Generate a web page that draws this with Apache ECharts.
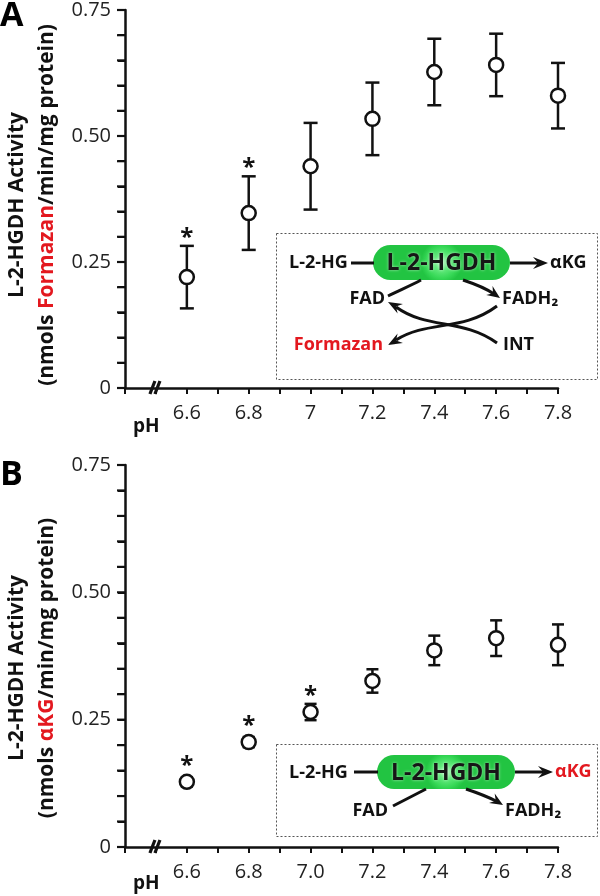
<!DOCTYPE html>
<html><head><meta charset="utf-8">
<script src="https://cdn.jsdelivr.net/npm/echarts@6/dist/echarts.min.js"></script>
<style>html,body{margin:0;padding:0;background:#fff}#c{width:600px;height:896px}</style>
</head><body><div id="c"></div>
<script>
// ---- data ----
const phValues = [6.6, 6.8, 7.0, 7.2, 7.4, 7.6, 7.8];
const xTickLabelsA = ['6.6', '6.8', '7', '7.2', '7.4', '7.6', '7.8'];
const xTickLabelsB = ['6.6', '6.8', '7.0', '7.2', '7.4', '7.6', '7.8'];
const yTickValues = [0, 0.25, 0.5, 0.75];
const yTickLabels = ['0', '0.25', '0.50', '0.75'];
const yTickMarks = [0, 0.05, 0.10, 0.15, 0.20, 0.25, 0.30, 0.35, 0.40, 0.45, 0.50, 0.55, 0.60, 0.65, 0.70, 0.75];
const formazanMean = [0.220, 0.347, 0.440, 0.534, 0.627, 0.641, 0.580];
const formazanSem  = [0.062, 0.073, 0.086, 0.072, 0.066, 0.062, 0.065];
const akgMean = [0.128, 0.206, 0.265, 0.326, 0.386, 0.410, 0.397];
const akgSem  = [0.009, 0.010, 0.016, 0.023, 0.029, 0.035, 0.040];
const starsA = [6.6, 6.8];
const starsB = [6.6, 6.8, 7.0];
const axisBreakAt = 6.5;
const xMin = 6.4, xMax = 7.8;

const FONT = '"Open Sans", "DejaVu Sans", sans-serif';
const INK = '#111';
const RED = '#e3181f';

const chart = echarts.init(document.getElementById('c'), null, {renderer: 'canvas'});

function idxOf(v) { return phValues.findIndex(p => Math.abs(p - v) < 1e-6); }

function xAxisCfg(gridIndex, labels) {
  return {
    type: 'value', gridIndex, min: xMin, max: xMax, interval: 0.1,
    axisLine: {show: true, onZero: false, lineStyle: {color: INK, width: 2.5}},
    axisTick: {show: true, length: 6, lineStyle: {color: INK, width: 2}},
    splitLine: {show: false},
    axisLabel: {
      margin: 15, fontFamily: FONT, fontSize: 20, color: '#222',
      formatter: v => { const i = idxOf(v); return i >= 0 ? labels[i] : ''; }
    }
  };
}
function yAxisCfg(gridIndex, redWord, shift) {
  return {
    type: 'value', gridIndex, min: 0, max: 0.75, interval: 0.05,
    axisLine: {show: true, onZero: false, lineStyle: {color: INK, width: 2.5}},
    axisTick: {show: true, length: 7, lineStyle: {color: INK, width: 2}},
    splitLine: {show: false},
    axisLabel: {
      margin: 14, fontFamily: FONT, fontSize: 20, color: '#222',
      formatter: v => { const i = yTickValues.findIndex(t => Math.abs(t - v) < 1e-6); return i >= 0 ? yTickLabels[i] : ''; }
    },
    name: '{t|L-2-HGDH Activity}\n{t|(nmols }{r|' + redWord + '}{t|/min/mg protein)}',
    nameLocation: 'middle', nameRotate: 90, nameGap: 63,
    nameTextStyle: {
      padding: [0, shift, 0, 0],
      rich: {
        t: {fontFamily: FONT, fontWeight: 'bold', fontSize: 21, color: INK, lineHeight: 30},
        r: {fontFamily: FONT, fontWeight: 'bold', fontSize: 21, color: RED, lineHeight: 30}
      }
    }
  };
}

function errRender(capW) {
  return function (params, api) {
    const x = api.value(0), m = api.value(1), s = api.value(2);
    const t = api.coord([x, m + s]);
    const b = api.coord([x, m - s]);
    const st = {stroke: INK, lineWidth: 2.5};
    return {type: 'group', children: [
      {type: 'line', shape: {x1: t[0], y1: t[1], x2: b[0], y2: b[1]}, style: st},
      {type: 'line', shape: {x1: t[0] - capW / 2, y1: t[1], x2: t[0] + capW / 2, y2: t[1]}, style: st},
      {type: 'line', shape: {x1: b[0] - capW / 2, y1: b[1], x2: b[0] + capW / 2, y2: b[1]}, style: st}
    ]};
  };
}
function starRender(params, api) {
  const x = api.value(0), m = api.value(1), s = api.value(2);
  const t = api.coord([x, m + s]);
  const c = api.coord([x, m]);
  const top = Math.min(t[1], c[1] - 8);
  return {type: 'text', x: c[0], y: top - 8,
    style: {text: '*', font: 'bold 24px ' + FONT, fill: INK, align: 'center', verticalAlign: 'middle'}};
}
function breakRender(params, api) {
  const p = api.coord([api.value(0), api.value(1)]);
  const st = {stroke: INK, lineWidth: 3.2};
  return {type: 'group', children: [
    {type: 'line', shape: {x1: p[0] - 6, y1: p[1] + 6, x2: p[0] - 1, y2: p[1] - 7}, style: st},
    {type: 'line', shape: {x1: p[0] - 1, y1: p[1] + 6, x2: p[0] + 4, y2: p[1] - 7}, style: st}
  ]};
}
function yTickRender(params, api) {
  const p = api.coord([api.value(0), api.value(1)]);
  return {type: 'rect', shape: {x: p[0] - 8, y: p[1] - 1.1, width: 8, height: 2.2}, style: {fill: INK}};
}

function seriesFor(k, mean, sem, stars, capW) {
  const pts = phValues.map((x, i) => [x, mean[i], sem[i]]);
  const starPts = stars.map(x => { const i = idxOf(x); return [x, mean[i], sem[i]]; });
  return [
    {type: 'custom', xAxisIndex: k, yAxisIndex: k, data: yTickMarks.map(v => [xMin, v]),
      renderItem: yTickRender, z: 100, clip: false, silent: true},
    {type: 'custom', xAxisIndex: k, yAxisIndex: k, data: pts, renderItem: errRender(capW), z: 3, clip: false, silent: true},
    {type: 'scatter', xAxisIndex: k, yAxisIndex: k, data: pts.map(p => [p[0], p[1]]), symbol: 'circle', symbolSize: 14,
      itemStyle: {color: '#fff', borderColor: INK, borderWidth: 2.5, opacity: 1}, z: 4, silent: true},
    {type: 'custom', xAxisIndex: k, yAxisIndex: k, data: starPts, renderItem: starRender, z: 5, clip: false, silent: true},
    {type: 'custom', xAxisIndex: k, yAxisIndex: k, data: [[axisBreakAt, 0]], renderItem: breakRender, z: 6, clip: false, silent: true}
  ];
}

// ---- inset diagram helpers ----
function arrowHead(tx, ty, dx, dy, L, W) {
  const len = Math.hypot(dx, dy); const ux = dx / len, uy = dy / len; const nx = -uy, ny = ux;
  const bx = tx - ux * L, by = ty - uy * L;
  const nxp = tx - ux * L * 0.65, nyp = ty - uy * L * 0.65;
  return {type: 'polygon', shape: {points: [[tx, ty], [bx + nx * W / 2, by + ny * W / 2], [nxp, nyp], [bx - nx * W / 2, by - ny * W / 2]]},
    style: {fill: INK}, z: 20};
}
function txt(s, x, y, align, color, size) {
  return {type: 'text', x, y, z: 20,
    style: {text: s, font: 'bold ' + (size || 18) + 'px ' + FONT, fill: color || INK, align: align || 'left', verticalAlign: 'middle'}};
}
function line(x1, y1, x2, y2, w) {
  return {type: 'line', shape: {x1, y1, x2, y2}, style: {stroke: INK, lineWidth: w || 3}, z: 20};
}
function curve(x1, y1, cpx1, cpy1, cpx2, cpy2, x2, y2) {
  return {type: 'bezierCurve', shape: {x1, y1, cpx1, cpy1, cpx2, cpy2, x2, y2}, style: {stroke: INK, lineWidth: 3, fill: null}, z: 20};
}
function pill(x, y, w, h) {
  return [
    {type: 'rect', shape: {x, y, width: w, height: h, r: h / 2}, z: 18,
      style: {fill: new echarts.graphic.RadialGradient(0.5, 0.5, 0.6, [
        {offset: 0, color: '#b8f6c2'}, {offset: 0.35, color: '#62e97c'}, {offset: 0.75, color: '#36d856'}, {offset: 1, color: '#22c442'}])}},
    {type: 'text', x: x + w / 2, y: y + h / 2 + 1, z: 21,
      style: {text: 'L-2-HGDH', font: 'bold 23px ' + FONT, fill: '#161616', align: 'center', verticalAlign: 'middle',
        textShadowColor: 'rgba(255,255,255,0.6)', textShadowBlur: 3}}
  ];
}
function dashedBox(x, y, w, h) {
  return {type: 'rect', shape: {x, y, width: w, height: h}, z: 15,
    style: {fill: '#fff', stroke: '#555', lineWidth: 1, lineDash: [2, 2]}};
}

const graphicA = [
  dashedBox(276.5, 233.5, 321, 146),
  ...pill(373, 245, 137, 35),
  txt('L-2-HG', 289, 263),
  line(351, 263, 374, 263),
  line(510, 263, 538, 263), arrowHead(548, 263, 1, 0, 15, 12),
  txt('\u03b1KG', 550, 263),
  txt('FAD', 385, 299, 'right'),
  txt('FADH\u2082', 502, 299),
  txt('Formazan', 383, 345, 'right', RED),
  txt('INT', 503, 345),
  curve(421, 280, 410, 286, 400, 290, 388, 296),
  curve(463, 280, 475, 284, 487, 289, 494, 294), arrowHead(500, 298, 1, 0.7, 13, 11),
  curve(497, 306, 462, 332, 428, 320, 396, 340), arrowHead(388, 345, -1, 0.55, 14, 11),
  curve(497, 343, 462, 318, 428, 330, 396, 307), arrowHead(388, 302, -1, -0.55, 14, 11)
];
const graphicB = [
  dashedBox(276.5, 744.5, 321, 92),
  ...pill(377, 755, 138, 34),
  txt('L-2-HG', 289, 773),
  line(354, 772, 378, 772),
  line(515, 772, 543, 772), arrowHead(553, 772, 1, 0, 15, 12),
  txt('\u03b1KG', 555, 772, 'left', RED),
  txt('FAD', 388, 811, 'right'),
  txt('FADH\u2082', 505, 811),
  line(393, 806, 426, 789),
  curve(466, 789, 478, 793, 488, 797, 496, 801), arrowHead(503, 805, 1, 0.6, 13, 11)
];
const labelsG = [
  {type: 'text', x: 0, y: 16, style: {text: 'A', font: 'bold 34px ' + FONT, fill: '#000', align: 'left', verticalAlign: 'middle'}},
  {type: 'text', x: 0, y: 475, style: {text: 'B', font: 'bold 34px ' + FONT, fill: '#000', align: 'left', verticalAlign: 'middle'}},
  {type: 'text', x: 133, y: 427, style: {text: 'pH', font: 'bold 19px ' + FONT, fill: INK, align: 'left', verticalAlign: 'middle'}},
  {type: 'text', x: 133, y: 884, style: {text: 'pH', font: 'bold 19px ' + FONT, fill: INK, align: 'left', verticalAlign: 'middle'}}
];

chart.setOption({
  animation: false,
  backgroundColor: '#fff',
  grid: [
    {left: 125, top: 10, width: 433, height: 378, outerBoundsMode: 'none', containLabel: false},
    {left: 125, top: 465, width: 433, height: 382, outerBoundsMode: 'none', containLabel: false}
  ],
  xAxis: [xAxisCfg(0, xTickLabelsA), xAxisCfg(1, xTickLabelsB)],
  yAxis: [yAxisCfg(0, 'Formazan', 12), yAxisCfg(1, '\u03b1KG', 24)],
  series: [
    ...seriesFor(0, formazanMean, formazanSem, starsA, 14),
    ...seriesFor(1, akgMean, akgSem, starsB, 12)
  ],
  graphic: [...graphicA, ...graphicB, ...labelsG]
});
</script></body></html>
